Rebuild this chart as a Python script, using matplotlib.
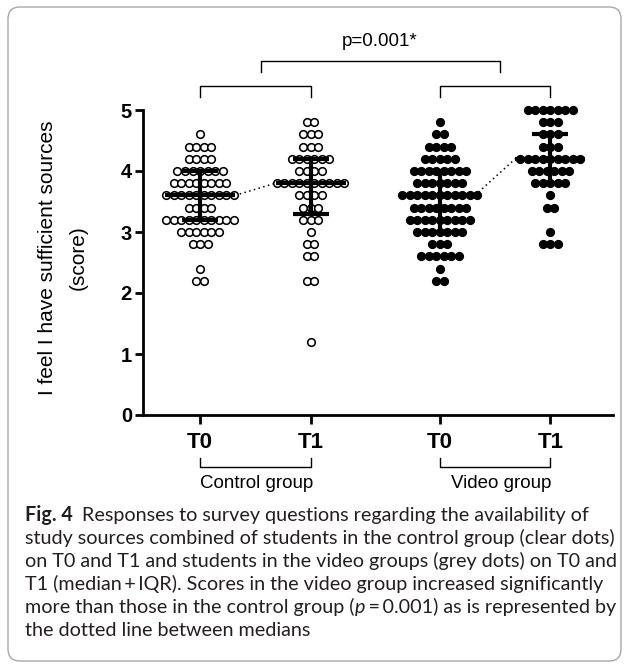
import numpy as np
import matplotlib
matplotlib.use("Agg")
import matplotlib.pyplot as plt
from matplotlib import transforms
from matplotlib.patches import FancyBboxPatch

plt.rcParams['font.family'] = ['Liberation Sans', 'DejaVu Sans']

# ---------------- data ----------------
categories = ["T0", "T1", "T0", "T1"]
groups = ["Control group", "Video group"]

ctrl_t0_scores = [4.6, 4.4, 4.2, 4.0, 3.8, 3.6, 3.4, 3.2, 3.0, 2.8, 2.4, 2.2]
ctrl_t0_counts = [1, 4, 4, 7, 8, 10, 4, 10, 6, 3, 1, 2]

ctrl_t1_scores = [4.8, 4.6, 4.4, 4.2, 4.0, 3.8, 3.6, 3.4, 3.2, 3.0, 2.8, 2.6, 2.2, 1.2]
ctrl_t1_counts = [2, 3, 3, 6, 4, 10, 4, 3, 3, 1, 2, 2, 2, 1]

vid_t0_scores = [4.8, 4.6, 4.4, 4.2, 4.0, 3.8, 3.6, 3.4, 3.2, 3.0, 2.8, 2.6, 2.4, 2.2]
vid_t0_counts = [1, 2, 4, 5, 8, 7, 11, 8, 9, 7, 3, 6, 1, 2]

vid_t1_scores = [5.0, 4.8, 4.6, 4.4, 4.2, 4.0, 3.8, 3.6, 3.4, 3.0, 2.8]
vid_t1_counts = [7, 3, 3, 3, 9, 6, 5, 1, 2, 1, 3]

medians = [3.6, 3.8, 3.6, 4.2]
q1 = [3.2, 3.3, 3.0, 3.8]
q3 = [4.0, 4.2, 4.0, 4.6]

p_text = "p=0.001*"
ylabel_1 = "I feel I have sufficient sources"
ylabel_2 = "(score)"
caption_bold = "Fig. 4"
caption_lines = [
    "Responses to survey questions regarding the availability of",
    "study sources combined of students in the control group (clear dots)",
    "on T0 and T1 and students in the video groups (grey dots) on T0 and",
    "T1 (median\u2009+\u2009IQR). Scores in the video group increased significantly",
    "more than those in the control group (",
    "the dotted line between medians",
]

# ---------------- layout ----------------
W, H = 629, 664
fig = plt.figure(figsize=(W / 100, H / 100), dpi=100)

def fx(px):
    return px / W

def fy(py):
    return 1 - py / H

ax = fig.add_axes([fx(143), fy(415), fx(613) - fx(143), fy(110) - fy(415)])
ax.set_xlim(0.484, 4.737)
ax.set_ylim(0, 5)

pos = [1.0, 2.0, 3.17, 4.17]
dx = 0.068
series = [
    (ctrl_t0_scores, ctrl_t0_counts, 'white'),
    (ctrl_t1_scores, ctrl_t1_counts, 'white'),
    (vid_t0_scores, vid_t0_counts, 'black'),
    (vid_t1_scores, vid_t1_counts, 'black'),
]
for p, (sc, cn, fc) in zip(pos, series):
    xs, ys = [], []
    for s, n in zip(sc, cn):
        offs = (np.arange(n) - (n - 1) / 2) * dx
        xs.extend(p + offs)
        ys.extend([s] * n)
    ax.scatter(xs, ys, s=30, facecolor=fc, edgecolor='black', linewidth=1.15,
               zorder=2, clip_on=False)

mhw = 0.317   # median half width
chw = 0.163   # cap half width
for p, m, a, b in zip(pos, medians, q1, q3):
    ax.plot([p - mhw, p + mhw], [m, m], color='black', lw=3.0, zorder=3,
            solid_capstyle='butt')
    ax.plot([p, p], [a, b], color='black', lw=3.0, zorder=3, solid_capstyle='butt')
    for q in (a, b):
        ax.plot([p - chw, p + chw], [q, q], color='black', lw=3.0, zorder=3,
                solid_capstyle='butt')

# dotted lines between medians
for i, j in [(0, 1), (2, 3)]:
    ax.plot([pos[i] + mhw, pos[j] - mhw], [medians[i], medians[j]],
            color='black', lw=1.1, ls=(0, (1, 2.2)), zorder=1)

# axes styling
for sp in ['top', 'right']:
    ax.spines[sp].set_visible(False)
for sp in ['left', 'bottom']:
    ax.spines[sp].set_linewidth(2.0)
ax.set_yticks([0, 1, 2, 3, 4, 5])
ax.set_yticklabels(['0', '1', '2', '3', '4', '5'], fontsize=14.5, fontweight='bold')
ax.tick_params(axis='y', direction='out', length=6, width=2, pad=2)
ax.set_xticks(pos)
ax.set_xticklabels(categories, fontsize=16, fontweight='bold')
ax.tick_params(axis='x', direction='out', length=6.5, width=2, pad=6)

# y label (two lines)
fig.text(fx(48), fy(258), ylabel_1, rotation=90, ha='center', va='center', fontsize=15)
fig.text(fx(78), fy(258), ylabel_2, rotation=90, ha='center', va='center', fontsize=15)

# brackets above
trans = transforms.blended_transform_factory(ax.transData, fig.transFigure)
bk = dict(color='black', lw=1.0, transform=trans, clip_on=False)
for i, j in [(0, 1), (2, 3)]:
    ax.plot([pos[i], pos[i], pos[j], pos[j]], [fy(97), fy(86), fy(86), fy(97)], **bk)
ax.plot([1.55, 1.55, 3.71, 3.71], [fy(72), fy(61), fy(61), fy(72)], **bk)
fig.text(fx(380), fy(42), p_text, ha='center', va='center', fontsize=13.5)

# brackets below + group labels
for i, j in [(0, 1), (2, 3)]:
    ax.plot([pos[i], pos[i], pos[j], pos[j]], [fy(458), fy(467), fy(467), fy(458)], **bk)
fig.text(fx(257), fy(484), groups[0], ha='center', va='center', fontsize=13.5)
fig.text(fx(501), fy(484), groups[1], ha='center', va='center', fontsize=13.5)

# caption
cap_font = 'Lato'
cap_color = '#231f20'
renderer = fig.canvas.get_renderer()
probe = fig.text(0, 0, caption_lines[1], fontsize=12, family=cap_font)
wprobe = probe.get_window_extent(renderer).width
probe.remove()
cap_size = 12 * 588 / wprobe

line_y = [515, 538, 561, 584, 607, 630]
tb = fig.text(fx(25), fy(line_y[0]), caption_bold, fontsize=cap_size, family=cap_font,
              fontweight='bold', va='center', color=cap_color)
bw = tb.get_window_extent(renderer).width
fig.text(fx(25 + bw + 9), fy(line_y[0]), caption_lines[0], fontsize=cap_size,
         family=cap_font, va='center', color=cap_color)
for k in range(1, 6):
    if k == 4:
        t1 = fig.text(fx(25), fy(line_y[k]), caption_lines[4], fontsize=cap_size,
                      family=cap_font, va='center', color=cap_color)
        w1 = t1.get_window_extent(renderer).width
        t2 = fig.text(fx(25 + w1), fy(line_y[k]), "p", fontsize=cap_size,
                      family=cap_font, style='italic', va='center', color=cap_color)
        w2 = t2.get_window_extent(renderer).width
        fig.text(fx(25 + w1 + w2 + 1), fy(line_y[k]), "\u2009=\u20090.001) as is represented by",
                 fontsize=cap_size, family=[cap_font, 'DejaVu Sans'], va='center', color=cap_color)
    else:
        fig.text(fx(25), fy(line_y[k]), caption_lines[k], fontsize=cap_size,
                 family=[cap_font, 'DejaVu Sans'], va='center', color=cap_color)

# rounded frame
box = FancyBboxPatch((0.08, 0.03), 6.13, 6.54,
                     boxstyle='round,pad=0,rounding_size=0.12',
                     transform=fig.dpi_scale_trans, fc='none', ec='#a8a8a8', lw=1.0)
fig.add_artist(box)

fig.savefig('out.png', dpi=100)
